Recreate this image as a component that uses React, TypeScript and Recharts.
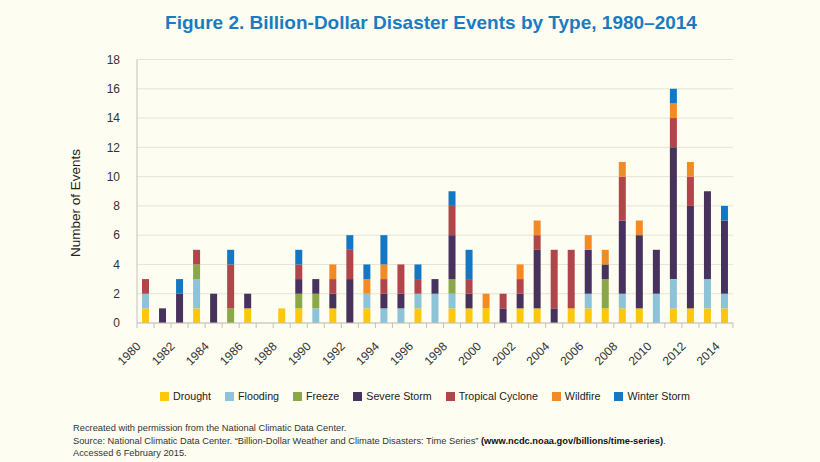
import React from 'react';
import { BarChart, Bar, XAxis, YAxis, CartesianGrid } from 'recharts';

const years = [
  '1980', '1981', '1982', '1983', '1984', '1985', '1986', '1987', '1988', '1989',
  '1990', '1991', '1992', '1993', '1994', '1995', '1996', '1997', '1998', '1999',
  '2000', '2001', '2002', '2003', '2004', '2005', '2006', '2007', '2008', '2009',
  '2010', '2011', '2012', '2013', '2014',
];

const drought = [1, 0, 0, 1, 0, 0, 1, 0, 1, 1, 0, 1, 0, 1, 0, 0, 1, 0, 1, 1, 1, 0, 1, 1, 0, 1, 1, 1, 1, 1, 0, 1, 1, 1, 1];
const flooding = [1, 0, 0, 2, 0, 0, 0, 0, 0, 0, 1, 0, 0, 1, 1, 1, 1, 2, 1, 0, 0, 0, 0, 0, 0, 0, 1, 0, 1, 0, 2, 2, 0, 2, 1];
const freeze = [0, 0, 0, 1, 0, 1, 0, 0, 0, 1, 1, 0, 0, 0, 0, 0, 0, 0, 1, 0, 0, 0, 0, 0, 0, 0, 0, 2, 0, 0, 0, 0, 0, 0, 0];
const severeStorm = [0, 1, 2, 0, 2, 0, 1, 0, 0, 1, 1, 1, 3, 0, 1, 1, 0, 1, 3, 1, 0, 1, 1, 4, 1, 0, 3, 1, 5, 5, 3, 9, 7, 6, 5];
const tropicalCyclone = [1, 0, 0, 1, 0, 3, 0, 0, 0, 1, 0, 1, 2, 0, 1, 2, 1, 0, 2, 1, 0, 1, 1, 1, 4, 4, 0, 0, 3, 0, 0, 2, 2, 0, 0];
const wildfire = [0, 0, 0, 0, 0, 0, 0, 0, 0, 0, 0, 1, 0, 1, 1, 0, 0, 0, 0, 0, 1, 0, 1, 1, 0, 0, 1, 1, 1, 1, 0, 1, 1, 0, 0];
const winterStorm = [0, 0, 1, 0, 0, 1, 0, 0, 0, 1, 0, 0, 1, 1, 2, 0, 1, 0, 1, 2, 0, 0, 0, 0, 0, 0, 0, 0, 0, 0, 0, 1, 0, 0, 1];

const seriesNames = ['Drought', 'Flooding', 'Freeze', 'Severe Storm', 'Tropical Cyclone', 'Wildfire', 'Winter Storm'];
const seriesColors = ['#FDC70C', '#8CC3D8', '#8AA84A', '#47325E', '#B0454A', '#F38B25', '#1477C5'];
const seriesValues = [drought, flooding, freeze, severeStorm, tropicalCyclone, wildfire, winterStorm];

const yTicks = [0, 2, 4, 6, 8, 10, 12, 14, 16, 18];

const titleText = 'Figure 2. Billion-Dollar Disaster Events by Type, 1980\u20132014';
const yLabelText = 'Number of Events';
const noteLine1 = 'Recreated with permission from the National Climatic Data Center.';
const noteLine2a = 'Source: National Climatic Data Center. \u201cBillion-Dollar Weather and Climate Disasters: Time Series\u201d ';
const noteLine2b = '(www.ncdc.noaa.gov/billions/time-series)';
const noteLine2c = '.';
const noteLine3 = 'Accessed 6 February 2015.';

const data = years.map((year, i) => {
  const row: Record<string, string | number> = { year };
  seriesNames.forEach((name, s) => {
    row[name] = seriesValues[s][i];
  });
  return row;
});

const W = 820;
const H = 462;
const MARGIN = { top: 59.5, right: 87, bottom: 109, left: 77 };
const Y_AXIS_W = 60;
const X_AXIS_H = 30;
const PLOT_W = W - MARGIN.left - Y_AXIS_W - MARGIN.right;
const BAND = PLOT_W / years.length;

const FONT = '"Liberation Sans", Arial, Helvetica, sans-serif';
const BG = '#FEFDF1';
const AXIS_COLOR = '#C4C2B8';

const XTick = (props: any) => {
  const { x, y, index, payload } = props;
  const half = BAND / 2;
  const lx = x - 4;
  const ly = y + 24;
  return (
    <g>
      <line x1={x - half} x2={x - half} y1={y} y2={y + 5} stroke={AXIS_COLOR} strokeWidth={1} />
      {index === years.length - 1 && (
        <line x1={x + half} x2={x + half} y1={y} y2={y + 5} stroke={AXIS_COLOR} strokeWidth={1} />
      )}
      {index % 2 === 0 && (
        <text
          x={lx}
          y={ly}
          transform={`rotate(-45 ${lx} ${ly})`}
          textAnchor="end"
          fontSize={12}
          fill="#333"
          fontFamily={FONT}
        >
          {payload.value}
        </text>
      )}
    </g>
  );
};

export default function App() {
  return (
    <div
      style={{
        position: 'fixed',
        left: 0,
        top: 0,
        right: 0,
        bottom: 0,
        background: BG,
      }}
    >
      <div style={{ position: 'absolute', left: 0, top: 0, width: W, height: H, fontFamily: FONT }}>
        <BarChart width={W} height={H} data={data} margin={MARGIN} barSize={7}>
          <CartesianGrid vertical={false} stroke="#E7E4D4" strokeWidth={1} />
          <XAxis
            dataKey="year"
            interval={0}
            height={X_AXIS_H}
            tickLine={false}
            tickSize={0}
            tickMargin={0}
            axisLine={{ stroke: AXIS_COLOR }}
            tick={<XTick />}
          />
          <YAxis
            width={Y_AXIS_W}
            domain={[0, 18]}
            ticks={yTicks}
            interval={0}
            tickLine={false}
            tickMargin={11}
            axisLine={{ stroke: AXIS_COLOR }}
            tick={{ fontSize: 12, fill: '#333', fontFamily: FONT }}
          />
          {seriesNames.map((name, s) => (
            <Bar key={name} dataKey={name} stackId="a" fill={seriesColors[s]} isAnimationActive={false} />
          ))}
        </BarChart>

        <svg
          width={W}
          height={H}
          style={{ position: 'absolute', left: 0, top: 0, pointerEvents: 'none' }}
        >
          <text x={431} y={29} textAnchor="middle" fontSize={19} fontWeight="bold" fill="#1A7BC2" fontFamily={FONT}>
            {titleText}
          </text>
          <text
            x={80}
            y={203}
            transform="rotate(-90 80 203)"
            textAnchor="middle"
            fontSize={13.5}
            fill="#222"
            fontFamily={FONT}
          >
            {yLabelText}
          </text>
          <text x={73} y={431} fontSize={9.3} fill="#333" fontFamily={FONT}>
            {noteLine1}
          </text>
          <text x={73} y={443.5} fontSize={9.3} fill="#333" fontFamily={FONT}>
            {noteLine2a}
            <tspan fontWeight="bold" fill="#111">{noteLine2b}</tspan>
            {noteLine2c}
          </text>
          <text x={73} y={456} fontSize={9.3} fill="#333" fontFamily={FONT}>
            {noteLine3}
          </text>
        </svg>

        <div
          style={{
            position: 'absolute',
            left: 160,
            top: 389,
            height: 14,
            display: 'flex',
            alignItems: 'center',
            fontSize: 10.7,
            color: '#222',
            whiteSpace: 'nowrap',
          }}
        >
          {seriesNames.map((name, s) => (
            <div key={name} style={{ display: 'flex', alignItems: 'center', marginRight: 14 }}>
              <span style={{ width: 9, height: 9, background: seriesColors[s], marginRight: 4, display: 'inline-block' }} />
              <span>{name}</span>
            </div>
          ))}
        </div>
      </div>
    </div>
  );
}
